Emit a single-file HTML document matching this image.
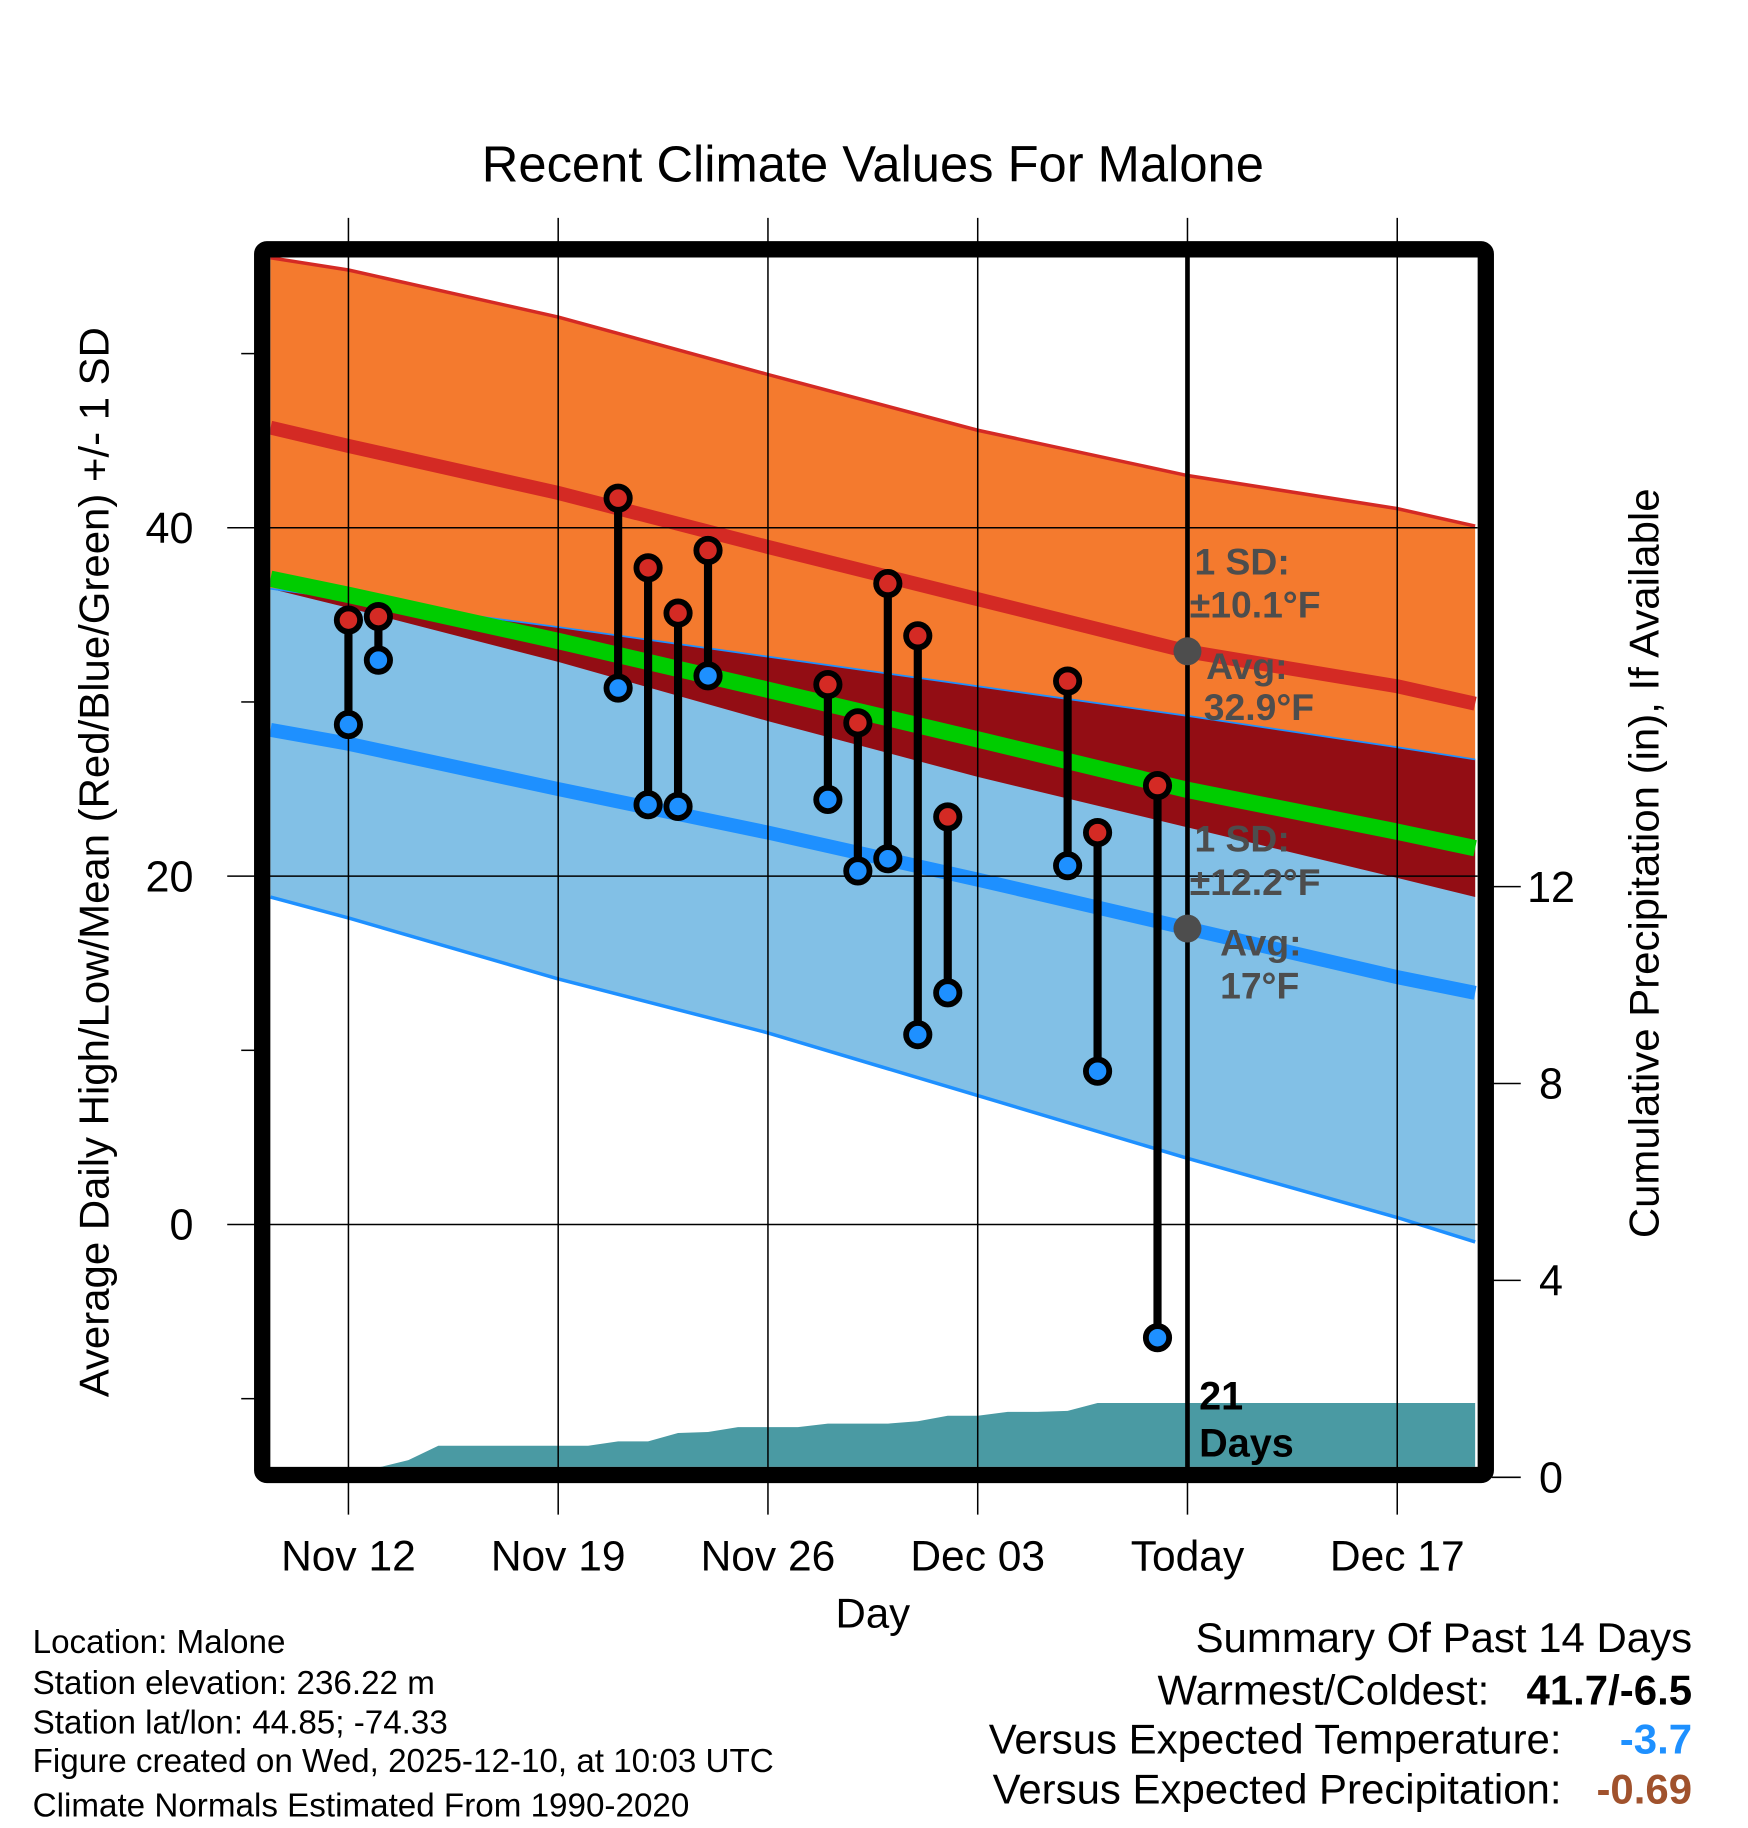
<!DOCTYPE html>
<html><head><meta charset="utf-8"><style>
html,body{margin:0;padding:0;background:#fff}
svg{display:block;font-family:"Liberation Sans",Arial,sans-serif}
</style></head><body>
<svg id="chart" width="1748" height="1828" viewBox="0 0 1500 1569" preserveAspectRatio="none" xmlns="http://www.w3.org/2000/svg">
<text x="749" y="156" font-size="43.5" text-anchor="middle">Recent Climate Values For Malone</text>
<defs><clipPath id="pc"><rect x="232" y="221" width="1036" height="1038"/></clipPath></defs>
<g id="fills" clip-path="url(#pc)"></g>
<g id="grid"></g>
<g id="obs"></g>
<g id="ann">
<text x="1025" y="493" font-size="32" font-weight="bold" fill="#4d4d4d">1 SD:</text>
<text x="1021" y="530" font-size="32" font-weight="bold" fill="#4d4d4d">±10.1°F</text>
<circle cx="1019" cy="559" r="12" fill="#4d4d4d"/>
<text x="1035" y="583" font-size="32" font-weight="bold" fill="#4d4d4d">Avg:</text>
<text x="1033" y="618" font-size="32" font-weight="bold" fill="#4d4d4d">32.9°F</text>
<text x="1025" y="731" font-size="32" font-weight="bold" fill="#4d4d4d">1 SD:</text>
<text x="1021" y="768" font-size="32" font-weight="bold" fill="#4d4d4d">±12.2°F</text>
<circle cx="1019" cy="797" r="12" fill="#4d4d4d"/>
<text x="1047" y="820" font-size="32" font-weight="bold" fill="#4d4d4d">Avg:</text>
<text x="1047" y="857" font-size="32" font-weight="bold" fill="#4d4d4d">17°F</text>
<text x="1029" y="1210" font-size="34" font-weight="bold">21</text>
<text x="1029" y="1250" font-size="34" font-weight="bold">Days</text>
</g>
<rect x="225" y="214" width="1050" height="1052" rx="4" fill="none" stroke="#000" stroke-width="14"/>
<text transform="translate(93,740) rotate(-90)" font-size="36" text-anchor="middle">Average Daily High/Low/Mean (Red/Blue/Green) +/- 1 SD</text>
<text transform="translate(1423,741) rotate(-90)" font-size="36" text-anchor="middle">Cumulative Precipitation (in), If Available</text>
<text x="749" y="1397" font-size="36" text-anchor="middle">Day</text>
<g font-size="28.5">
<text x="28" y="1419">Location: Malone</text>
<text x="28" y="1454">Station elevation: 236.22 m</text>
<text x="28" y="1488">Station lat/lon: 44.85; -74.33</text>
<text x="28" y="1521">Figure created on Wed, 2025-12-10, at 10:03 UTC</text>
<text x="28" y="1559">Climate Normals Estimated From 1990-2020</text>
</g>
<g font-size="36" text-anchor="end">
<text x="1452" y="1418">Summary Of Past 14 Days</text>
<text x="1278" y="1463">Warmest/Coldest:</text>
<text x="1452" y="1463" font-weight="bold">41.7/-6.5</text>
<text x="1340" y="1505">Versus Expected Temperature:</text>
<text x="1452" y="1505" font-weight="bold" fill="#1e90ff">-3.7</text>
<text x="1340" y="1548">Versus Expected Precipitation:</text>
<text x="1452" y="1548" font-weight="bold" fill="#a0522d">-0.69</text>
</g>
</svg>
<script>
// normals sampled at day offsets from Nov 12
const normDays = [-2.6, 0, 7, 14, 21, 28, 35, 37.6];
const highPlusSD = [55.5, 54.8, 52.1, 48.8, 45.6, 43.0, 41.1, 40.1];
const highMean = [45.75, 44.7, 42.0, 38.9, 35.9, 32.9, 30.9, 29.9];
const highMinusSD = [36.5, 35.4, 32.3, 28.9, 25.7, 22.8, 19.9, 18.8];
const lowPlusSD = [36.5, 35.9, 34.3, 32.6, 30.9, 29.2, 27.4, 26.7];
const lowMean = [28.4, 27.6, 25.0, 22.5, 19.8, 17.0, 14.2, 13.3];
const lowMinusSD = [18.8, 17.6, 14.1, 11.0, 7.4, 3.8, 0.4, -1.0];
// observations
const obsDays = [0, 1, 9, 10, 11, 12, 16, 17, 18, 19, 20, 24, 25, 27];
const obsHigh = [34.7, 34.9, 41.7, 37.7, 35.1, 38.7, 31.0, 28.8, 36.8, 33.8, 23.4, 31.2, 22.5, 25.2];
const obsLow = [28.7, 32.4, 30.8, 24.1, 24.0, 31.5, 24.4, 20.3, 21.0, 10.9, 13.3, 20.6, 8.8, -6.5];
// cumulative precipitation
const precipDays = [-2.6, 0, 1, 2, 3, 8, 9, 10, 11, 12, 13, 15, 16, 18, 19, 20, 21, 22, 23, 24, 25, 27, 37.6];
const precipVals = [0, 0, 0.2, 0.35, 0.64, 0.64, 0.73, 0.73, 0.90, 0.92, 1.02, 1.02, 1.09, 1.09, 1.14, 1.25, 1.25, 1.33, 1.33, 1.35, 1.51, 1.51, 1.51];
// ticks
const xTickDays = [0, 7, 14, 21, 28, 35];
const xTickLabels = ["Nov 12", "Nov 19", "Nov 26", "Dec 03", "Today", "Dec 17"];
const yTicks = [0, 20, 40];
const yMinor = [-10, 10, 30, 50];
const y2Ticks = [0, 4, 8, 12];
const todayDay = 28;

const X = d => 299 + d * (180 / 7);
const Y = v => 1051 - v * 14.95;
const Y2 = p => 1268 - p * 42.25;
const NS = "http://www.w3.org/2000/svg";
function mk(tag, attrs, parent) {
  const e = document.createElementNS(NS, tag);
  for (const k in attrs) e.setAttribute(k, attrs[k]);
  parent.appendChild(e);
  return e;
}
const pts = arr => normDays.map((d, i) => X(d) + "," + Y(arr[i]));
const band = (top, bot) => pts(top).concat(pts(bot).reverse()).join(" ");
const fills = document.getElementById("fills");

let e;
e = mk("polygon", {points: band(highPlusSD, highMinusSD), fill: "#f47a2e"}, fills);


e = mk("polygon", {points: band(lowPlusSD, lowMinusSD), fill: "#82c0e6"}, fills);


e = mk("polygon", {points: band(lowPlusSD, highMinusSD), fill: "#930d14"}, fills);


e = mk("polyline", {points: pts(highPlusSD).join(" "), fill: "none", stroke: "#d42a24", "stroke-width": 3}, fills);


e = mk("polyline", {points: pts(lowPlusSD).join(" "), fill: "none", stroke: "#1e90ff", "stroke-width": 1.5}, fills);


e = mk("polyline", {points: pts(lowMinusSD).join(" "), fill: "none", stroke: "#1e90ff", "stroke-width": 3}, fills);


e = mk("polyline", {points: pts(highMean).join(" "), fill: "none", stroke: "#d42a24", "stroke-width": 12}, fills);


e = mk("polyline", {points: pts(lowMean).join(" "), fill: "none", stroke: "#1e90ff", "stroke-width": 12}, fills);


const meanVals = highMean.map((h, i) => (h + lowMean[i]) / 2);
e = mk("polyline", {points: pts(meanVals).join(" "), fill: "none", stroke: "#00cc00", "stroke-width": 14}, fills);


const pp = precipDays.map((d, i) => X(d) + "," + Y2(precipVals[i]));
pp.push(X(37.6) + ",1280", X(-2.6) + ",1280");
e = mk("polygon", {points: pp.join(" "), fill: "#4a9aa3"}, fills);



const grid = document.getElementById("grid");
xTickDays.forEach((d, i) => {
  e = mk("line", {x1: X(d), x2: X(d), y1: 187, y2: 1300, stroke: "#000", "stroke-width": 1.3}, grid);
  
  
  e = mk("text", {x: X(d), y: 1348, "font-size": 36.5, "text-anchor": "middle"}, grid);
  e.textContent = xTickLabels[i];
  
  
});
yTicks.forEach(v => {
  e = mk("line", {x1: 195, x2: 1268, y1: Y(v), y2: Y(v), stroke: "#000", "stroke-width": 1.3}, grid);
  
  
  e = mk("text", {x: 166, y: Y(v) + 13, "font-size": 37, "text-anchor": "end"}, grid);
  e.textContent = v;
  
  
});
yMinor.forEach(v => {
  e = mk("line", {x1: 207, x2: 220, y1: Y(v), y2: Y(v), stroke: "#000", "stroke-width": 1.3}, grid);
  
  
});
y2Ticks.forEach(p => {
  e = mk("line", {x1: 1280, x2: 1305, y1: Y2(p), y2: Y2(p), stroke: "#000", "stroke-width": 1.3}, grid);
  
  
  e = mk("text", {x: 1331, y: Y2(p) + 13, "font-size": 37, "text-anchor": "middle"}, grid);
  e.textContent = p;
  
  
});
e = mk("line", {x1: X(todayDay), x2: X(todayDay), y1: 221, y2: 1262, stroke: "#000", "stroke-width": 4}, grid);



const obs = document.getElementById("obs");
obsDays.forEach((d, i) => {
  e = mk("line", {x1: X(d), x2: X(d), y1: Y(obsHigh[i]), y2: Y(obsLow[i]), stroke: "#000", "stroke-width": 7}, obs);
  
  
});
obsDays.forEach((d, i) => {
  e = mk("circle", {cx: X(d), cy: Y(obsHigh[i]), r: 10, fill: "#d42a24", stroke: "#000", "stroke-width": 5}, obs);
  
  
  e = mk("circle", {cx: X(d), cy: Y(obsLow[i]), r: 10, fill: "#1e90ff", stroke: "#000", "stroke-width": 5}, obs);
  
  
});
</script>
</body></html>
